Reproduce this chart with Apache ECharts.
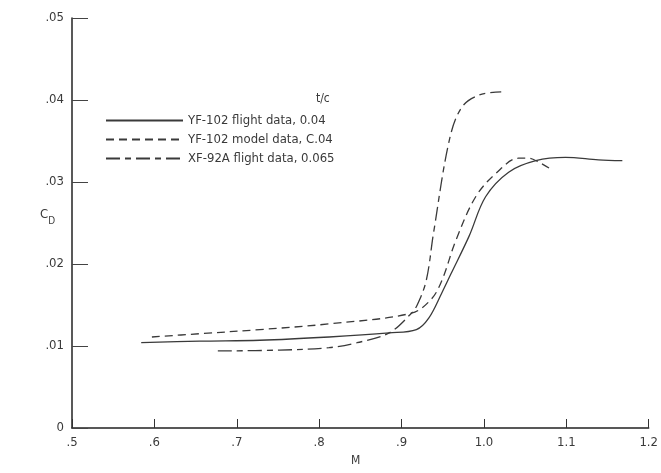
<!DOCTYPE html>
<html>
<head>
<meta charset="utf-8">
<script src="https://cdn.jsdelivr.net/npm/echarts@6/dist/echarts.min.js"></script>
<style>
  html, body { margin: 0; padding: 0; background: #fff; }
  #chart { width: 661px; height: 473px; }
</style>
</head>
<body>
<div id="chart"></div>
<script>
// values: Mach number and drag coefficient
const flightMach = [0.584, 0.655, 0.728, 0.812, 0.885, 0.918, 0.933, 0.949, 0.960, 0.982, 1.002, 1.030, 1.063, 1.099, 1.139, 1.168];
const flightCd   = [0.0104, 0.0106, 0.0107, 0.0111, 0.0116, 0.0120, 0.0134, 0.0165, 0.0188, 0.0234, 0.0282, 0.0312, 0.0326, 0.0330, 0.0327, 0.0326];

const modelMach = [0.597, 0.655, 0.728, 0.812, 0.912, 0.936, 0.949, 0.966, 0.990, 1.015, 1.042, 1.054, 1.067, 1.079];
const modelCd   = [0.0111, 0.0115, 0.0120, 0.0127, 0.0140, 0.0157, 0.0180, 0.0229, 0.0282, 0.0311, 0.0329, 0.0329, 0.0324, 0.0317];

const xf92Mach = [0.677, 0.752, 0.812, 0.846, 0.885, 0.912, 0.919, 0.930, 0.939, 0.958, 0.973, 0.994, 1.021];
const xf92Cd   = [0.0094, 0.0095, 0.0098, 0.0104, 0.0116, 0.0140, 0.0150, 0.0180, 0.0239, 0.0351, 0.0391, 0.0406, 0.0410];

const seriesNames = ["YF-102 flight data, 0.04", "YF-102 model data, C.04", "XF-92A flight data, 0.065"];

const pairs = (xs, ys) => xs.map((x, i) => [x, ys[i]]);

const ink = "#3a3a3a";
const font = "'DejaVu Sans Condensed', 'DejaVu Sans', sans-serif";

const chart = echarts.init(document.getElementById("chart"));

const lineSeries = (name, data, type) => ({
  name: name,
  type: "line",
  data: data,
  smooth: 0.35,
  showSymbol: false,
  symbol: "none",
  lineStyle: { color: ink, width: 1.3, type: type },
  itemStyle: { color: ink }
});

chart.setOption({
  animation: false,
  grid: { left: 72, right: 11, top: 18, bottom: 45 },
  legend: {
    orient: "vertical",
    left: 100,
    top: 109,
    itemWidth: 77,
    itemHeight: 12,
    itemGap: 6,
    itemStyle: { opacity: 0 },
    textStyle: { fontFamily: font, fontSize: 13, color: ink },
    data: seriesNames
  },
  xAxis: {
    type: "value",
    min: 0.5,
    max: 1.2,
    interval: 0.1,
    axisLine: { lineStyle: { color: "#222", width: 1.5 } },
    axisTick: { inside: true, length: 9, lineStyle: { color: "#333" } },
    splitLine: { show: false },
    axisLabel: {
      margin: 8,
      fontFamily: font,
      fontSize: 13,
      color: ink,
      showMaxLabel: true,
      formatter: v => {
        const s = v.toFixed(1);
        return v < 1 ? s.slice(1) : s;
      }
    }
  },
  yAxis: {
    type: "value",
    min: 0,
    max: 0.05,
    interval: 0.01,
    axisLine: { show: true, lineStyle: { color: "#222", width: 1.5 } },
    axisTick: { inside: true, length: 16, lineStyle: { color: "#444" } },
    splitLine: { show: false },
    axisLabel: {
      margin: 8,
      fontFamily: font,
      fontSize: 13,
      color: ink,
      formatter: v => (v === 0 ? "0" : v.toFixed(2).slice(1))
    }
  },
  graphic: [
    {
      type: "text",
      left: 316,
      top: 93,
      style: { text: "t/c", font: "12px " + font, fill: ink }
    },
    {
      type: "text",
      left: 40,
      top: 208,
      style: {
        text: "{c|C}{d|D}",
        rich: {
          c: { fontFamily: font, fontSize: 13, fill: ink, verticalAlign: "top" },
          d: { fontFamily: font, fontSize: 10, fill: ink, padding: [8, 0, 0, 0] }
        }
      }
    },
    {
      type: "text",
      left: 351,
      top: 455,
      style: { text: "M", font: "12px " + font, fill: ink }
    }
  ],
  series: [
    lineSeries(seriesNames[0], pairs(flightMach, flightCd), "solid"),
    lineSeries(seriesNames[1], pairs(modelMach, modelCd), [8, 5]),
    lineSeries(seriesNames[2], pairs(xf92Mach, xf92Cd), [14, 5, 6, 5])
  ]
});
</script>
</body>
</html>
